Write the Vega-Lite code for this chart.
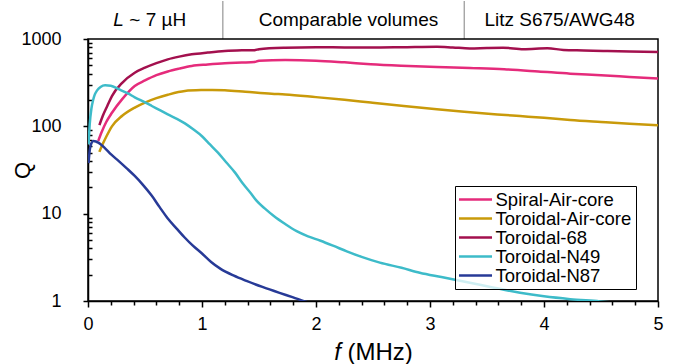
{
  "$schema": "https://vega.github.io/schema/vega-lite/v6.json",
  "background": "white",
  "padding": {"left": 11, "top": 0, "right": 5, "bottom": 0},
  "spacing": 0,
  "bounds": "flush",
  "resolve": {"scale": {"color": "independent", "x": "independent"}, "legend": {"color": "independent"}},
  "config": {
    "font": "Liberation Sans",
    "axis": {
      "domainColor": "#000", "domainWidth": 1.5,
      "tickColor": "#000", "tickWidth": 1.5,
      "labelColor": "#000", "labelFont": "Liberation Sans", "labelFontSize": 18,
      "titleFont": "Liberation Sans", "titleFontSize": 22, "titleFontWeight": "normal", "titleColor": "#000",
      "grid": false
    },
    "legend": {
      "labelFont": "Liberation Sans", "labelFontSize": 18.5, "labelColor": "#000",
      "symbolType": "M-1.19,0H2.94", "symbolSize": 256, "symbolStrokeWidth": 2.5,
      "labelOffset": 17.5, "rowPadding": 0, "padding": 4,
      "strokeColor": "#000", "fillColor": "rgba(255,255,255,0.75)", "labelLimit": 0
    },
    "text": {"font": "Liberation Sans", "color": "#000"}
  },
  "datasets": {
    "curves": [
      {"s": "Spiral-Air-core", "f": 0.09, "Q": 68},
      {"s": "Spiral-Air-core", "f": 0.12, "Q": 86},
      {"s": "Spiral-Air-core", "f": 0.16, "Q": 112},
      {"s": "Spiral-Air-core", "f": 0.21, "Q": 143},
      {"s": "Spiral-Air-core", "f": 0.3, "Q": 205},
      {"s": "Spiral-Air-core", "f": 0.41, "Q": 290},
      {"s": "Spiral-Air-core", "f": 0.5, "Q": 335},
      {"s": "Spiral-Air-core", "f": 0.6, "Q": 385},
      {"s": "Spiral-Air-core", "f": 0.7, "Q": 425},
      {"s": "Spiral-Air-core", "f": 0.8, "Q": 458},
      {"s": "Spiral-Air-core", "f": 0.91, "Q": 491},
      {"s": "Spiral-Air-core", "f": 1.05, "Q": 510},
      {"s": "Spiral-Air-core", "f": 1.2, "Q": 527},
      {"s": "Spiral-Air-core", "f": 1.35, "Q": 537},
      {"s": "Spiral-Air-core", "f": 1.46, "Q": 545},
      {"s": "Spiral-Air-core", "f": 1.5, "Q": 565},
      {"s": "Spiral-Air-core", "f": 1.73, "Q": 575},
      {"s": "Spiral-Air-core", "f": 2.0, "Q": 565},
      {"s": "Spiral-Air-core", "f": 2.25, "Q": 540},
      {"s": "Spiral-Air-core", "f": 2.48, "Q": 515},
      {"s": "Spiral-Air-core", "f": 2.75, "Q": 495},
      {"s": "Spiral-Air-core", "f": 3.06, "Q": 478},
      {"s": "Spiral-Air-core", "f": 3.35, "Q": 465},
      {"s": "Spiral-Air-core", "f": 3.65, "Q": 450},
      {"s": "Spiral-Air-core", "f": 3.95, "Q": 425},
      {"s": "Spiral-Air-core", "f": 4.23, "Q": 401},
      {"s": "Spiral-Air-core", "f": 4.5, "Q": 385},
      {"s": "Spiral-Air-core", "f": 4.75, "Q": 368},
      {"s": "Spiral-Air-core", "f": 5.0, "Q": 352},

      {"s": "Toroidal-Air-core", "f": 0.1, "Q": 51},
      {"s": "Toroidal-Air-core", "f": 0.13, "Q": 63},
      {"s": "Toroidal-Air-core", "f": 0.16, "Q": 76},
      {"s": "Toroidal-Air-core", "f": 0.21, "Q": 100},
      {"s": "Toroidal-Air-core", "f": 0.3, "Q": 132},
      {"s": "Toroidal-Air-core", "f": 0.41, "Q": 164},
      {"s": "Toroidal-Air-core", "f": 0.5, "Q": 187},
      {"s": "Toroidal-Air-core", "f": 0.6, "Q": 210},
      {"s": "Toroidal-Air-core", "f": 0.7, "Q": 230},
      {"s": "Toroidal-Air-core", "f": 0.85, "Q": 254},
      {"s": "Toroidal-Air-core", "f": 1.0, "Q": 260},
      {"s": "Toroidal-Air-core", "f": 1.09, "Q": 261},
      {"s": "Toroidal-Air-core", "f": 1.2, "Q": 259},
      {"s": "Toroidal-Air-core", "f": 1.38, "Q": 249},
      {"s": "Toroidal-Air-core", "f": 1.61, "Q": 236},
      {"s": "Toroidal-Air-core", "f": 1.73, "Q": 232},
      {"s": "Toroidal-Air-core", "f": 2.0, "Q": 216},
      {"s": "Toroidal-Air-core", "f": 2.25, "Q": 201},
      {"s": "Toroidal-Air-core", "f": 2.48, "Q": 187},
      {"s": "Toroidal-Air-core", "f": 2.77, "Q": 171},
      {"s": "Toroidal-Air-core", "f": 3.06, "Q": 157},
      {"s": "Toroidal-Air-core", "f": 3.3, "Q": 147},
      {"s": "Toroidal-Air-core", "f": 3.59, "Q": 137},
      {"s": "Toroidal-Air-core", "f": 3.79, "Q": 131},
      {"s": "Toroidal-Air-core", "f": 4.0, "Q": 125},
      {"s": "Toroidal-Air-core", "f": 4.23, "Q": 118},
      {"s": "Toroidal-Air-core", "f": 4.5, "Q": 112},
      {"s": "Toroidal-Air-core", "f": 4.75, "Q": 107},
      {"s": "Toroidal-Air-core", "f": 5.0, "Q": 103},

      {"s": "Toroidal-68", "f": 0.1, "Q": 103},
      {"s": "Toroidal-68", "f": 0.13, "Q": 132},
      {"s": "Toroidal-68", "f": 0.17, "Q": 172},
      {"s": "Toroidal-68", "f": 0.21, "Q": 222},
      {"s": "Toroidal-68", "f": 0.3, "Q": 315},
      {"s": "Toroidal-68", "f": 0.41, "Q": 411},
      {"s": "Toroidal-68", "f": 0.5, "Q": 470},
      {"s": "Toroidal-68", "f": 0.6, "Q": 530},
      {"s": "Toroidal-68", "f": 0.7, "Q": 585},
      {"s": "Toroidal-68", "f": 0.8, "Q": 628},
      {"s": "Toroidal-68", "f": 0.91, "Q": 668},
      {"s": "Toroidal-68", "f": 1.05, "Q": 700},
      {"s": "Toroidal-68", "f": 1.2, "Q": 729},
      {"s": "Toroidal-68", "f": 1.35, "Q": 742},
      {"s": "Toroidal-68", "f": 1.46, "Q": 745},
      {"s": "Toroidal-68", "f": 1.5, "Q": 765},
      {"s": "Toroidal-68", "f": 1.73, "Q": 795},
      {"s": "Toroidal-68", "f": 2.0, "Q": 805},
      {"s": "Toroidal-68", "f": 2.25, "Q": 800},
      {"s": "Toroidal-68", "f": 2.48, "Q": 798},
      {"s": "Toroidal-68", "f": 2.75, "Q": 805},
      {"s": "Toroidal-68", "f": 3.06, "Q": 817},
      {"s": "Toroidal-68", "f": 3.2, "Q": 800},
      {"s": "Toroidal-68", "f": 3.35, "Q": 780},
      {"s": "Toroidal-68", "f": 3.5, "Q": 790},
      {"s": "Toroidal-68", "f": 3.64, "Q": 795},
      {"s": "Toroidal-68", "f": 3.82, "Q": 765},
      {"s": "Toroidal-68", "f": 4.03, "Q": 783},
      {"s": "Toroidal-68", "f": 4.17, "Q": 750},
      {"s": "Toroidal-68", "f": 4.35, "Q": 740},
      {"s": "Toroidal-68", "f": 4.52, "Q": 730},
      {"s": "Toroidal-68", "f": 4.75, "Q": 718},
      {"s": "Toroidal-68", "f": 5.0, "Q": 710},

      {"s": "Toroidal-N49", "f": 0.005, "Q": 62},
      {"s": "Toroidal-N49", "f": 0.015, "Q": 105},
      {"s": "Toroidal-N49", "f": 0.03, "Q": 160},
      {"s": "Toroidal-N49", "f": 0.045, "Q": 200},
      {"s": "Toroidal-N49", "f": 0.06, "Q": 232},
      {"s": "Toroidal-N49", "f": 0.08, "Q": 258},
      {"s": "Toroidal-N49", "f": 0.11, "Q": 282},
      {"s": "Toroidal-N49", "f": 0.15, "Q": 295},
      {"s": "Toroidal-N49", "f": 0.2, "Q": 292},
      {"s": "Toroidal-N49", "f": 0.27, "Q": 266},
      {"s": "Toroidal-N49", "f": 0.35, "Q": 238},
      {"s": "Toroidal-N49", "f": 0.41, "Q": 215},
      {"s": "Toroidal-N49", "f": 0.5, "Q": 188},
      {"s": "Toroidal-N49", "f": 0.56, "Q": 171},
      {"s": "Toroidal-N49", "f": 0.63, "Q": 153},
      {"s": "Toroidal-N49", "f": 0.7, "Q": 137},
      {"s": "Toroidal-N49", "f": 0.78, "Q": 122},
      {"s": "Toroidal-N49", "f": 0.85, "Q": 108},
      {"s": "Toroidal-N49", "f": 0.92, "Q": 93},
      {"s": "Toroidal-N49", "f": 1.0, "Q": 77},
      {"s": "Toroidal-N49", "f": 1.07, "Q": 62},
      {"s": "Toroidal-N49", "f": 1.14, "Q": 50},
      {"s": "Toroidal-N49", "f": 1.21, "Q": 39},
      {"s": "Toroidal-N49", "f": 1.29, "Q": 29.5},
      {"s": "Toroidal-N49", "f": 1.36, "Q": 22},
      {"s": "Toroidal-N49", "f": 1.43, "Q": 17},
      {"s": "Toroidal-N49", "f": 1.48, "Q": 14},
      {"s": "Toroidal-N49", "f": 1.55, "Q": 11.5},
      {"s": "Toroidal-N49", "f": 1.63, "Q": 9.4},
      {"s": "Toroidal-N49", "f": 1.73, "Q": 7.6},
      {"s": "Toroidal-N49", "f": 1.83, "Q": 6.3},
      {"s": "Toroidal-N49", "f": 1.93, "Q": 5.5},
      {"s": "Toroidal-N49", "f": 2.04, "Q": 4.9},
      {"s": "Toroidal-N49", "f": 2.15, "Q": 4.3},
      {"s": "Toroidal-N49", "f": 2.27, "Q": 3.7},
      {"s": "Toroidal-N49", "f": 2.4, "Q": 3.2},
      {"s": "Toroidal-N49", "f": 2.56, "Q": 2.75},
      {"s": "Toroidal-N49", "f": 2.75, "Q": 2.4},
      {"s": "Toroidal-N49", "f": 2.91, "Q": 2.11},
      {"s": "Toroidal-N49", "f": 3.1, "Q": 1.88},
      {"s": "Toroidal-N49", "f": 3.35, "Q": 1.62},
      {"s": "Toroidal-N49", "f": 3.55, "Q": 1.43},
      {"s": "Toroidal-N49", "f": 3.79, "Q": 1.24},
      {"s": "Toroidal-N49", "f": 4.0, "Q": 1.13},
      {"s": "Toroidal-N49", "f": 4.23, "Q": 1.05},
      {"s": "Toroidal-N49", "f": 4.49, "Q": 0.99},
      {"s": "Toroidal-N49", "f": 4.6, "Q": 0.96},

      {"s": "Toroidal-N87", "f": 0.005, "Q": 38},
      {"s": "Toroidal-N87", "f": 0.015, "Q": 53},
      {"s": "Toroidal-N87", "f": 0.03, "Q": 64},
      {"s": "Toroidal-N87", "f": 0.047, "Q": 68},
      {"s": "Toroidal-N87", "f": 0.07, "Q": 67},
      {"s": "Toroidal-N87", "f": 0.09, "Q": 65},
      {"s": "Toroidal-N87", "f": 0.15, "Q": 56},
      {"s": "Toroidal-N87", "f": 0.2, "Q": 48},
      {"s": "Toroidal-N87", "f": 0.27, "Q": 40},
      {"s": "Toroidal-N87", "f": 0.34, "Q": 33},
      {"s": "Toroidal-N87", "f": 0.41, "Q": 27},
      {"s": "Toroidal-N87", "f": 0.48, "Q": 21.5},
      {"s": "Toroidal-N87", "f": 0.56, "Q": 16},
      {"s": "Toroidal-N87", "f": 0.63, "Q": 11.8},
      {"s": "Toroidal-N87", "f": 0.7, "Q": 8.8},
      {"s": "Toroidal-N87", "f": 0.78, "Q": 6.7},
      {"s": "Toroidal-N87", "f": 0.85, "Q": 5.3},
      {"s": "Toroidal-N87", "f": 0.92, "Q": 4.3},
      {"s": "Toroidal-N87", "f": 1.0, "Q": 3.5},
      {"s": "Toroidal-N87", "f": 1.08, "Q": 2.8},
      {"s": "Toroidal-N87", "f": 1.16, "Q": 2.35},
      {"s": "Toroidal-N87", "f": 1.28, "Q": 1.95},
      {"s": "Toroidal-N87", "f": 1.39, "Q": 1.7},
      {"s": "Toroidal-N87", "f": 1.53, "Q": 1.45},
      {"s": "Toroidal-N87", "f": 1.68, "Q": 1.24},
      {"s": "Toroidal-N87", "f": 1.8, "Q": 1.1},
      {"s": "Toroidal-N87", "f": 1.9, "Q": 0.99},
      {"s": "Toroidal-N87", "f": 1.95, "Q": 0.95}
    ]
  },
  "vconcat": [
    {
      "width": 570,
      "height": 38,
      "view": {"stroke": null},
      "data": {"values": [{}]},
      "layer": [
        {"mark": {"type": "rule", "color": "#808080", "strokeWidth": 1},
         "encoding": {"x": {"datum": 1.183, "type": "quantitative", "scale": {"domain": [0, 5], "nice": false, "zero": false}, "axis": null}}},
        {"mark": {"type": "rule", "color": "#808080", "strokeWidth": 1},
         "encoding": {"x": {"datum": 3.3, "type": "quantitative", "axis": null}}},
        {"mark": {"type": "text", "text": "L", "fontStyle": "italic", "fontSize": 19, "align": "right", "baseline": "middle"},
         "encoding": {"x": {"datum": 0.315, "type": "quantitative", "axis": null}}},
        {"mark": {"type": "text", "text": "~ 7 µH", "fontSize": 19, "align": "left", "baseline": "middle"},
         "encoding": {"x": {"datum": 0.362, "type": "quantitative", "axis": null}}},
        {"mark": {"type": "text", "text": "Comparable volumes", "fontSize": 19, "align": "center", "baseline": "middle"},
         "encoding": {"x": {"datum": 2.285, "type": "quantitative", "axis": null}}},
        {"mark": {"type": "text", "text": "Litz S675/AWG48", "fontSize": 19, "align": "center", "baseline": "middle"},
         "encoding": {"x": {"datum": 4.137, "type": "quantitative", "axis": null}}}
      ]
    },
    {
      "width": 570,
      "height": 262,
      "view": {"stroke": "#000", "strokeWidth": 1.5},
      "data": {"name": "curves"},
      "resolve": {"axis": {"x": "independent"}},
      "layer": [
        {
          "mark": {"type": "line", "strokeWidth": 2.5, "opacity": 0, "clip": true, "interpolate": "monotone"},
          "encoding": {
            "x": {
              "field": "f", "type": "quantitative",
              "scale": {"domain": [0, 5], "nice": false, "zero": false},
              "title": null,
              "axis": {
                "orient": "bottom",
                "values": [0.2, 0.4, 0.6, 0.8, 1.2, 1.4, 1.6, 1.8, 2.2, 2.4, 2.6, 2.8, 3.2, 3.4, 3.6, 3.8, 4.2, 4.4, 4.6, 4.8],
                "labels": false,
                "domain": false,
                "tickSize": 4
              }
            },
            "y": {"field": "Q", "type": "quantitative", "scale": {"type": "log", "domain": [1, 1000], "nice": false}},
            "detail": {"field": "s"}
          }
        },
        {
          "mark": {"type": "line", "strokeWidth": 2.5, "clip": true, "interpolate": "monotone"},
          "encoding": {
            "x": {
              "field": "f", "type": "quantitative",
              "scale": {"domain": [0, 5], "nice": false, "zero": false},
              "title": null,
              "axis": {
                "orient": "bottom",
                "values": [0, 1, 2, 3, 4, 5],
                "format": "d",
                "tickSize": 6,
                "labelPadding": 8,
                "labelFlush": false
              }
            },
            "y": {
              "field": "Q", "type": "quantitative",
              "scale": {"type": "log", "domain": [1, 1000], "nice": false},
              "title": "Q",
              "axis": {
                "values": [1, 2, 3, 4, 5, 6, 7, 8, 9, 10, 20, 30, 40, 50, 60, 70, 80, 90, 100, 200, 300, 400, 500, 600, 700, 800, 900, 1000],
                "format": "d",
                "labelExpr": "(datum.value == 1 || datum.value == 10 || datum.value == 100 || datum.value == 1000) ? datum.label : ''",
                "tickSize": {"condition": {"test": "datum.value == 1 || datum.value == 10 || datum.value == 100 || datum.value == 1000", "value": 5}, "value": -4},
                "labelPadding": 22,
                "titlePadding": -14,
                "labelOverlap": false,
                "labelFlush": false,
                "labelBound": false
              }
            },
            "color": {
              "field": "s", "type": "nominal",
              "scale": {
                "domain": ["Spiral-Air-core", "Toroidal-Air-core", "Toroidal-68", "Toroidal-N49", "Toroidal-N87"],
                "range": ["#E52B7B", "#C99A0A", "#A3104E", "#3DBBC9", "#273A97"]
              },
              "legend": {"title": null, "orient": "none", "legendX": 367, "legendY": 147}
            }
          }
        }
      ]
    },
    {
      "width": 570,
      "height": 64,
      "view": {"stroke": null},
      "data": {"values": [{}]},
      "layer": [
        {"mark": {"type": "text", "text": "f", "fontStyle": "italic", "fontSize": 24, "align": "right", "baseline": "alphabetic", "dy": 27},
         "encoding": {"x": {"datum": 2.218, "type": "quantitative", "scale": {"domain": [0, 5], "nice": false, "zero": false}, "axis": null}}},
        {"mark": {"type": "text", "text": "(MHz)", "fontSize": 24, "align": "left", "baseline": "alphabetic", "dy": 27},
         "encoding": {"x": {"datum": 2.276, "type": "quantitative", "axis": null}}}
      ]
    }
  ]
}
